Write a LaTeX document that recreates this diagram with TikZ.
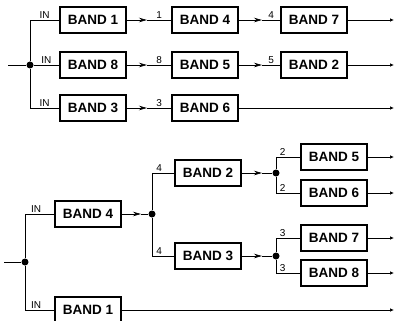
\documentclass[tikz,border=0pt]{standalone}
\usepackage{fontspec}
\setmainfont{Liberation Sans}
\usetikzlibrary{arrows.meta}
\begin{document}
\begin{tikzpicture}[x=1pt,y=-1pt,
  band/.style={draw, line width=1.7pt, minimum width=66pt, minimum height=26pt,
    inner sep=0pt, font=\fontsize{13.5}{16}\selectfont\bfseries},
  wire/.style={line width=0.7pt},
  flow/.style={wire, -{Stealth[length=8pt,width=4.5pt]}},
  outflow/.style={wire, -{Latex[length=4pt,width=3.5pt]}},
  tag/.style={font=\fontsize{10}{11}\selectfont, anchor=south, inner sep=1.2pt},
  junction/.style={circle, fill, inner sep=0pt, minimum size=7pt}
]
\useasboundingbox (0,0) rectangle (394,321);

% ---------- upper network: three parallel chains ----------
\coordinate (inA) at (8,65);
\node[junction] (jA) at (30,65) {};

\node[band] (u1) at (93,20)  {BAND 1};
\node[band] (u8) at (93,65)  {BAND 8};
\node[band] (u3) at (93,108) {BAND 3};
\node[band] (u4) at (205,20)  {BAND 4};
\node[band] (u5) at (205,65)  {BAND 5};
\node[band] (u6) at (205,108) {BAND 6};
\node[band] (u7) at (314,20) {BAND 7};
\node[band] (u2) at (314,65) {BAND 2};

\coordinate (a1) at (147,20);
\coordinate (a8) at (147,65);
\coordinate (a3) at (147,108);
\coordinate (a4) at (262,20);
\coordinate (a5) at (262,65);
\coordinate (oA1) at (394,20);
\coordinate (oA2) at (394,65);
\coordinate (oA3) at (394,108);

\draw[wire] (inA) -- (jA);
\draw[wire] (jA) |- node[tag, pos=0.75] {IN} (u1.west);
\draw[wire] (jA) -- node[tag] {IN} (u8.west);
\draw[wire] (jA) |- node[tag, pos=0.75] {IN} (u3.west);

\draw[flow] (u1.east) -- (a1);
\draw[wire] (a1) -- node[tag] {1} (u4.west);
\draw[flow] (u8.east) -- (a8);
\draw[wire] (a8) -- node[tag] {8} (u5.west);
\draw[flow] (u3.east) -- (a3);
\draw[wire] (a3) -- node[tag] {3} (u6.west);

\draw[flow] (u4.east) -- (a4);
\draw[wire] (a4) -- node[tag] {4} (u7.west);
\draw[flow] (u5.east) -- (a5);
\draw[wire] (a5) -- node[tag] {5} (u2.west);

\draw[outflow] (u7.east) -- (oA1);
\draw[outflow] (u2.east) -- (oA2);
\draw[outflow] (u6.east) -- (oA3);

% ---------- lower network: binary split tree ----------
\coordinate (inB) at (4,262);
\node[junction] (jB) at (25,262) {};
\node[band] (l4) at (88,214) {BAND 4};
\node[band] (l1) at (88,310) {BAND 1};

\node[junction] (jC) at (152,214) {};
\node[band] (l2) at (208,173) {BAND 2};
\node[band] (l3) at (208,256) {BAND 3};

\node[junction] (jD) at (276,173) {};
\node[junction] (jE) at (276,256) {};
\node[band] (l5) at (334,157) {BAND 5};
\node[band] (l6) at (334,193) {BAND 6};
\node[band] (l7) at (334,238) {BAND 7};
\node[band] (l8) at (334,273) {BAND 8};

\coordinate (b4) at (141,214);
\coordinate (b2) at (262,173);
\coordinate (b3) at (262,256);
\coordinate (oB5) at (394,157);
\coordinate (oB6) at (394,193);
\coordinate (oB7) at (394,238);
\coordinate (oB8) at (394,273);
\coordinate (oB1) at (394,310);

\draw[wire] (inB) -- (jB);
\draw[wire] (jB) |- node[tag, pos=0.69] {IN} (l4.west);
\draw[wire] (jB) |- node[tag, pos=0.69] {IN} (l1.west);

\draw[flow] (l4.east) -- (b4);
\draw[wire] (b4) -- (jC);
\draw[wire] (jC) |- node[tag, pos=0.66] {4} (l2.west);
\draw[wire] (jC) |- node[tag, pos=0.66] {4} (l3.west);

\draw[flow] (l2.east) -- (b2);
\draw[wire] (b2) -- (jD);
\draw[wire] (jD) |- node[tag, pos=0.64] {2} (l5.west);
\draw[wire] (jD) |- node[tag, pos=0.64] {2} (l6.west);

\draw[flow] (l3.east) -- (b3);
\draw[wire] (b3) -- (jE);
\draw[wire] (jE) |- node[tag, pos=0.64] {3} (l7.west);
\draw[wire] (jE) |- node[tag, pos=0.64] {3} (l8.west);

\draw[outflow] (l5.east) -- (oB5);
\draw[outflow] (l6.east) -- (oB6);
\draw[outflow] (l7.east) -- (oB7);
\draw[outflow] (l8.east) -- (oB8);
\draw[outflow] (l1.east) -- (oB1);
\end{tikzpicture}
\end{document}
